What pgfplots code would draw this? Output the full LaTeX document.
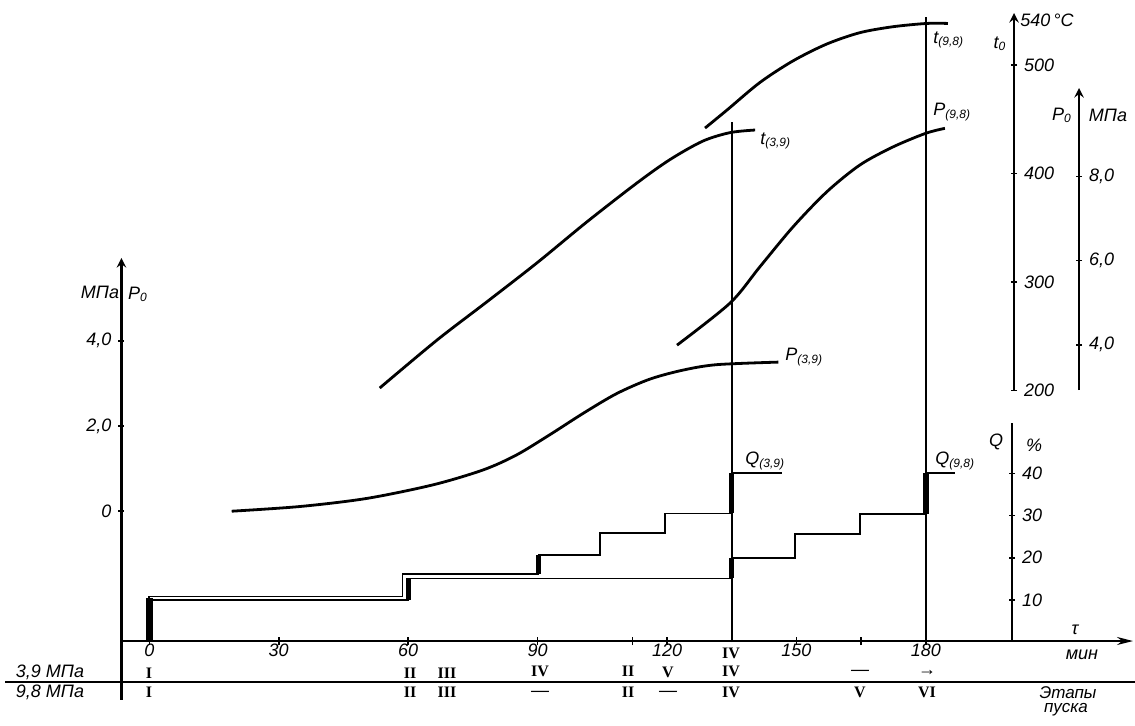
\documentclass[border=0pt]{standalone}
\usepackage{fontspec}
\setmainfont{Liberation Sans}
\newfontfamily\romfont{Liberation Serif}
\usepackage{pgfplots}
\pgfplotsset{compat=1.18}
\usetikzlibrary{arrows.meta}

\newcommand\lbl{\fontsize{9}{10}\selectfont\itshape}
\newcommand\rom[1]{{\romfont\upshape\bfseries\fontsize{8}{9}\selectfont #1}}

% 1 px of the reference = 0.5pt; all overlay axes share the same frame
\pgfplotsset{
  frame/.style={at={(0pt,-362.5pt)}, anchor=south west, scale only axis,
    width=567.5pt, height=362.5pt, hide axis, clip=false,
    xmin=-34.60, xmax=228.45},
  curve/.style={black, line width=1.4pt, smooth, no markers},
  step/.style={black, line width=0.9pt, sharp plot, no markers},
  thickbar/.style={black, line width=2.6pt, no markers},
  scale/.style={scale only axis, width=8pt, xmin=0, xmax=1,
    axis x line=none, tick align=outside, major tick length=3pt,
    tick style={black, line width=0.8pt},
    y axis line style={line width=1.1pt, -{Stealth[length=7pt,width=4pt]}},
    tick label style={font=\lbl}, clip=false},
}

\begin{document}
\begin{tikzpicture}
\useasboundingbox (0,0) rectangle (567.5pt,-362.5pt);

% ---- P(3,9), left pressure scale (MPa)
\begin{axis}[frame, ymin=-5.019, ymax=12.0]
\addplot[curve] coordinates {
  (19.1,0) (34.9,0.11) (50.4,0.30) (65.8,0.62) (77.4,0.97) (85.1,1.32)
  (92.9,1.80) (100.6,2.30) (108.3,2.76) (116.0,3.10) (123.6,3.31)
  (131.5,3.44) (145.8,3.50)};
\end{axis}

% ---- P(9,8), right pressure scale (MPa)
\begin{axis}[frame, ymin=-5.033, ymax=12.188]
\addplot[curve] coordinates {
  (122.3,3.99) (134.6,4.99) (141.5,5.85) (149.2,6.80) (157.0,7.63)
  (164.7,8.27) (172.4,8.70) (179.9,9.02) (184.4,9.14)};
\end{axis}

% ---- steam temperature t0 (deg C)
\begin{axis}[frame, ymin=-108.63, ymax=560.13]
\addplot[curve] coordinates {
  (53.4,202.2) (66.7,246.5) (78.2,281.6) (89.8,317.5) (101.4,355.4)
  (113.0,391.3) (120.7,413.0) (128.3,430.0) (134.6,437.8) (140.4,440.2)};
\addplot[curve] coordinates {
  (128.8,442) (134,459) (141.5,484) (149.2,504) (157.0,519.5)
  (164.7,530) (172.4,535.5) (180.2,538.5) (185.1,538.5)};
\end{axis}

% ---- load Q (%), step lines and the two vertical markers
\begin{axis}[frame, ymin=-19.61, ymax=152.07]
\addplot[step] coordinates {
  (0,0) (0,10.8) (58.7,10.8) (58.7,16.1) (90.2,16.1) (90.2,20.6)
  (104.4,20.6) (104.4,25.9) (119.5,25.9) (119.5,30.5) (135,30.5)
  (135,40) (146.6,40)};
\addplot[step] coordinates {
  (0,0) (0,10) (60,10) (60,15.1) (135,15.1) (135,19.9) (149.6,19.9)
  (149.6,25.6) (164.7,25.6) (164.7,30.3) (180,30.3) (180,40) (186.7,40)};
\addplot[black, line width=3.4pt] coordinates {(0,0) (0,10.4)};
\addplot[thickbar] coordinates {(60,10) (60,15.1)};
\addplot[thickbar] coordinates {(90.2,16.1) (90.2,20.6)};
\addplot[thickbar] coordinates {(135,30.5) (135,40)};
\addplot[thickbar] coordinates {(135,15.1) (135,19.9)};
\addplot[thickbar] coordinates {(180,30.3) (180,40)};
\addplot[black, line width=0.9pt] coordinates {(135,0) (135,123.2)};
\addplot[black, line width=0.9pt] coordinates {(180,0) (180,148.0)};
\end{axis}

% ---- scales
% time axis
\begin{axis}[scale only axis, at={(60.75pt,-320.5pt)}, anchor=south west,
  width=505.75pt, height=10pt, xmin=-6.443, xmax=228.0, ymin=0, ymax=1,
  axis x line=bottom, axis y line=none, tick align=center,
  major tick length=4pt, tick style={black, line width=0.8pt},
  x axis line style={line width=1.1pt, -{Stealth[length=8pt,width=4pt]}},
  xtick={0,30,60,90,120,150,180},
  xticklabels={0,30,60,90,120,150,180},
  extra x ticks={112,165}, extra x tick labels={},
  tick label style={font=\lbl},
  xticklabel style={inner sep=0.5pt, yshift=1pt}]
\end{axis}
% left pressure scale
\begin{axis}[scale, at={(60.75pt,-320.5pt)}, anchor=south west,
  height=191.5pt, ymin=-3.047, ymax=5.944, axis y line=left,
  ytick={0,2,4}, yticklabels={0,{2,0},{4,0}}]
\end{axis}
% load scale
\begin{axis}[scale, at={(506pt,-320.5pt)}, anchor=south east,
  height=109pt, ymin=0.284, ymax=51.91, axis y line=right,
  y axis line style={-},
  ytick={10,20,30,40}, yticklabels={10,20,30,40}]
\end{axis}
% temperature scale
\begin{axis}[scale, at={(507pt,-195.2pt)}, anchor=south east,
  height=188.7pt, ymin=200, ymax=548.1, axis y line=right,
  ytick={200,300,400,500}, yticklabels={200,300,400,500}]
\end{axis}
% right pressure scale
\begin{axis}[scale, at={(539.5pt,-195pt)}, anchor=south east,
  height=151pt, ymin=2.924, ymax=10.097, axis y line=right,
  ytick={4,6,8}, yticklabels={{4,0},{6,0},{8,0}}]
\end{axis}

% ---- texts and table rows (reference pixel coordinates)
\begin{scope}[x=0.5pt, y=-0.5pt, every node/.style={font=\lbl, inner sep=0pt}]
\draw[line width=1pt] (5,682) -- (1135,682);
\draw[line width=1.1pt] (121.5,641) -- (121.5,700);

\node at (100,292) {МПа};
\node at (138,294) {P\textsubscript{0}};
\node at (1000,44) {t\textsubscript{0}};
\node[anchor=west] at (1020,20) {540\,°C};
\node at (1062,115) {P\textsubscript{0}};
\node at (1108,115) {МПа};
\node at (996,442) {Q};
\node at (1034,445) {\%};
\node at (1075,630) {τ};
\node at (1082,655) {мин};

\node[anchor=west] at (760,141) {t\textsubscript{(3,9)}};
\node[anchor=west] at (933,40) {t\textsubscript{(9,8)}};
\node[anchor=west] at (933,112) {P\textsubscript{(9,8)}};
\node[anchor=west] at (785,357) {P\textsubscript{(3,9)}};
\node[anchor=west] at (745,461) {Q\textsubscript{(3,9)}};
\node[anchor=west] at (935,461) {Q\textsubscript{(9,8)}};

\node at (50,672) {3,9 МПа};
\node at (50,692) {9,8 МПа};
\node[font=\fontsize{8.5}{9}\selectfont\itshape] at (1068,693) {Этапы};
\node[font=\fontsize{8.5}{9}\selectfont\itshape] at (1066,710) {пуска};

% stages at 3.9 MPa
\node at (149,673) {\rom{I}};
\node at (410,673) {\rom{II}};
\node at (447,673) {\rom{III}};
\node at (540,671) {\rom{IV}};
\node at (628,671) {\rom{II}};
\node at (668,672) {\rom{V}};
\node at (731,653) {\rom{IV}};
\node at (731,671) {\rom{IV}};
\node at (860,673) {—};
\node at (927,673) {→};
% stages at 9.8 MPa
\node at (149,692) {\rom{I}};
\node at (410,692) {\rom{II}};
\node at (447,692) {\rom{III}};
\node at (540,694) {—};
\node at (628,692) {\rom{II}};
\node at (668,694) {—};
\node at (731,692) {\rom{IV}};
\node at (860,692) {\rom{V}};
\node at (927,692) {\rom{VI}};
\end{scope}
\end{tikzpicture}
\end{document}
